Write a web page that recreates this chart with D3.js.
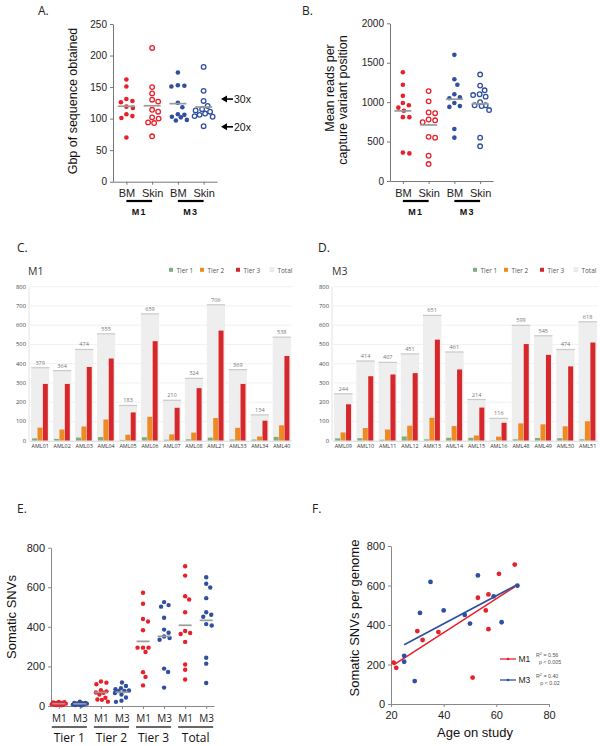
<!DOCTYPE html>
<html>
<head>
<meta charset="utf-8">
<script src="https://cdn.jsdelivr.net/npm/d3@7"></script>
<style>
  body { margin: 0; background: #fff; }
  svg { display: block; font-family: "Liberation Sans", Arial, sans-serif; }
</style>
</head>
<body>
<script>
// ---------- data ----------
const groupsAB = ["M1 BM", "M1 Skin", "M3 BM", "M3 Skin"];
const gbpM1BM = [162, 151, 131, 128, 126, 119, 117, 107, 104, 101, 70];
const gbpM1Skin = [212, 150, 140, 130, 127, 114, 111, 102, 100, 94, 93, 72];
const gbpM3BM = [173, 152, 151, 153, 125, 118, 107, 106, 102, 103, 98, 97];
const gbpM3Skin = [182, 144, 128, 120, 115, 113, 111, 108, 104, 103, 106, 88];
const coverageMarks = [{ label: "30x", value: 131 }, { label: "20x", value: 87 }];

const readsM1BM = [1380, 1220, 1080, 990, 960, 930, 890, 810, 810, 350, 360];
const readsM1Skin = [1140, 1010, 860, 870, 770, 780, 745, 550, 560, 320, 215];
const readsM3BM = [1600, 1290, 1220, 1100, 1060, 1050, 990, 940, 950, 660, 550];
const readsM3Skin = [1350, 1210, 1150, 1100, 1090, 1070, 1000, 960, 950, 960, 900, 550, 440];

const m1Samples = ["AML01", "AML02", "AML03", "AML04", "AML05", "AML06", "AML07", "AML08", "AML21", "AML33", "AML34", "AML40"];
const m1Tier1 = [12, 9, 16, 19, 4, 18, 5, 7, 16, 6, 6, 20];
const m1Tier2 = [68, 58, 74, 110, 31, 124, 33, 42, 118, 67, 22, 80];
const m1Tier3 = [295, 295, 383, 427, 147, 517, 171, 273, 572, 295, 104, 440];
const m1Total = [379, 364, 474, 555, 183, 659, 210, 324, 706, 369, 134, 538];
const m1Age = [57, 38, 56, 57, 22, 61, 21, 32, 67, 30, 51, 53];

const m3Samples = ["AML09", "AML10", "AML11", "AML12", "AMK13", "AML14", "AML15", "AML16", "AML48", "AML49", "AML50", "AML51"];
const m3Tier1 = [12, 13, 5, 22, 7, 15, 15, 2, 7, 14, 13, 7];
const m3Tier2 = [43, 66, 58, 78, 119, 76, 27, 21, 90, 85, 75, 101];
const m3Tier3 = [189, 335, 344, 351, 525, 370, 172, 93, 502, 446, 386, 510];
const m3Total = [244, 414, 407, 451, 651, 461, 214, 116, 599, 545, 474, 618];
const m3Age = [25, 62, 50, 48, 53, 31, 25, 29, 68, 59, 40, 35];

const tierNames = ["Tier 1", "Tier 2", "Tier 3", "Total"];
const fitStats = [{ name: "M1", r2: "0.56", p: "p < 0.005" }, { name: "M3", r2: "0.40", p: "p < 0.02" }];

// ---------- look ----------
const red = "#e8202b", blue = "#2f4f9f", meanGrey = "#9a9a9a";
const tierColors = ["#7fae7c", "#ee8a24", "#d8272b", "#eeeeee"];
const sansAlt = "'Open Sans', 'Noto Sans', sans-serif";

const svg = d3.select("body").append("svg").attr("width", 600).attr("height", 746);
svg.append("rect").attr("width", 600).attr("height", 746).attr("fill", "#fff");

// panel letters
[["A.", 38, 15], ["B.", 302, 15], ["C.", 17, 252], ["D.", 318, 252], ["E.", 17, 513], ["F.", 312, 513]]
  .forEach(([t, x, y]) => svg.append("text").attr("x", x).attr("y", y).attr("font-family", sansAlt)
    .attr("font-size", 12).attr("fill", "#222").text(t));

function styleAxis(sel, size, stroke, family) {
  sel.selectAll("path,line").attr("stroke", stroke);
  sel.selectAll("text").attr("font-size", size).attr("fill", "#222").attr("font-family", family || null);
}

// beeswarm-ish offsets, capped at maxOff (dots may overlap when crowded)
function swarm(ys, sep, maxOff) {
  const order = d3.range(ys.length).sort((a, b) => ys[a] - ys[b]);
  const placed = [], dx = [];
  for (const i of order) {
    let best = 0, bestD = -1;
    for (let k = 0; ; k++) {
      const c = k === 0 ? 0 : (k % 2 ? 1 : -1) * Math.ceil(k / 2) * 0.5;
      if (Math.abs(c) > maxOff) break;
      const dmin = placed.length ? d3.min(placed, p => Math.hypot(p[0] - c, p[1] - ys[i])) : Infinity;
      if (dmin >= sep) { best = c; break; }
      if (dmin > bestD) { bestD = dmin; best = c; }
    }
    placed.push([best, ys[i]]);
    dx[i] = best;
  }
  return dx;
}

function dotGroup(g, vals, cx, y, color, open, r, sep, half, maxOff) {
  const dx = swarm(vals.map(y), sep, maxOff);
  g.append("g").selectAll("circle").data(vals).join("circle")
    .attr("cx", (d, i) => cx + dx[i]).attr("cy", d => y(d)).attr("r", r)
    .attr("fill", open ? "#fff" : color)
    .attr("stroke", open ? color : "none").attr("stroke-width", 1.3);
  g.append("line")
    .attr("x1", cx - half).attr("x2", cx + half)
    .attr("y1", y(d3.mean(vals))).attr("y2", y(d3.mean(vals)))
    .attr("stroke", meanGrey).attr("stroke-width", 1.7);
}

function brackets(g, x, pairs, y, labelY, opts) {
  pairs.forEach(([a, b, label]) => {
    g.append("line").attr("x1", x(a) - opts.ext).attr("x2", x(b) + opts.ext)
      .attr("y1", y).attr("y2", y).attr("stroke", opts.stroke).attr("stroke-width", opts.width);
    g.append("text").attr("x", (x(a) + x(b)) / 2).attr("y", labelY).attr("text-anchor", "middle")
      .attr("font-size", opts.size).attr("font-weight", opts.weight).attr("font-family", opts.family || null)
      .attr("letter-spacing", opts.spacing || 0).attr("fill", "#111").text(label);
  });
}

// ---------- panel A ----------
{
  const g = svg.append("g");
  const y = d3.scaleLinear().domain([0, 250]).range([181.7, 24]);
  const x = d3.scalePoint().domain(groupsAB).range([113, 217]).padding(0.52);
  g.append("g").attr("transform", "translate(113,0)")
    .call(d3.axisLeft(y).tickValues(d3.range(0, 251, 50)).tickSize(3).tickSizeOuter(0))
    .call(styleAxis, 10, "#777");
  g.append("g").attr("transform", "translate(0,181.7)")
    .call(d3.axisBottom(x).tickSize(3).tickSizeOuter(0).tickPadding(5).tickFormat(d => d.split(" ")[1]))
    .call(styleAxis, 11, "#777");
  g.append("text").attr("transform", "translate(77,101) rotate(-90)").attr("text-anchor", "middle")
    .attr("font-size", 12.5).attr("fill", "#111").text("Gbp of sequence obtained");
  const sets = [gbpM1BM, gbpM1Skin, gbpM3BM, gbpM3Skin];
  sets.forEach((vals, i) => dotGroup(g, vals, x(groupsAB[i]), y, i < 2 ? red : blue, i % 2 === 1, 2.3, 6.2, 8.5, 9));
  brackets(g, x, [["M1 BM", "M1 Skin", "M1"], ["M3 BM", "M3 Skin", "M3"]], 201, 215,
    { ext: 0, stroke: "#000", width: 2.2, size: 9, weight: "bold", spacing: 1.2 });
  // coverage arrows
  coverageMarks.forEach(m => {
    const yy = y(m.value);
    g.append("path").attr("d", `M221,${yy} L227,${yy - 3.5} L227,${yy + 3.5} Z`).attr("fill", "#000");
    g.append("line").attr("x1", 226).attr("x2", 233).attr("y1", yy).attr("y2", yy)
      .attr("stroke", "#000").attr("stroke-width", 1.6);
    g.append("text").attr("x", 234).attr("y", yy + 3.8).attr("font-size", 10.5).attr("fill", "#111").text(m.label);
  });
}

// ---------- panel B ----------
{
  const g = svg.append("g");
  const y = d3.scaleLinear().domain([0, 2000]).range([181, 23.3]);
  const x = d3.scalePoint().domain(groupsAB).range([390, 493]).padding(0.5);
  g.append("g").attr("transform", "translate(390,0)")
    .call(d3.axisLeft(y).tickValues(d3.range(0, 2001, 500)).tickFormat(d3.format("d")).tickSize(3).tickSizeOuter(0))
    .call(styleAxis, 10, "#777");
  g.append("g").attr("transform", "translate(0,181)")
    .call(d3.axisBottom(x).tickSize(3).tickSizeOuter(0).tickPadding(5).tickFormat(d => d.split(" ")[1]))
    .call(styleAxis, 11, "#777");
  g.append("text").attr("transform", "translate(334,88) rotate(-90)").attr("text-anchor", "middle")
    .attr("font-size", 12.5).attr("fill", "#111").text("Mean reads per");
  g.append("text").attr("transform", "translate(347,100) rotate(-90)").attr("text-anchor", "middle")
    .attr("font-size", 12.5).attr("fill", "#111").text("capture variant position");
  const sets = [readsM1BM, readsM1Skin, readsM3BM, readsM3Skin];
  sets.forEach((vals, i) => dotGroup(g, vals, x(groupsAB[i]), y, i < 2 ? red : blue, i % 2 === 1, 2.3, 6.2, 8.5, 9));
  brackets(g, x, [["M1 BM", "M1 Skin", "M1"], ["M3 BM", "M3 Skin", "M3"]], 201, 215,
    { ext: 0, stroke: "#000", width: 2.2, size: 9, weight: "bold", spacing: 1.2 });
}

// ---------- panels C & D ----------
function barPanel(o) {
  const g = svg.append("g");
  const y = d3.scaleLinear().domain([0, 800]).range([440.7, 286.7]);
  const x = d3.scaleBand().domain(o.samples).range([o.left, o.right]).paddingInner(0.17).paddingOuter(0.05);
  const bw = x.bandwidth();
  const xi = d3.scaleBand().domain([0, 1, 2]).range([1, bw - 1.5]).paddingInner(0.08);
  // grid
  g.append("g").selectAll("line").data(d3.range(100, 801, 100)).join("line")
    .attr("x1", o.left).attr("x2", o.right).attr("y1", d => y(d)).attr("y2", d => y(d))
    .attr("stroke", "#f1f1f1");
  g.append("line").attr("x1", o.left - 1).attr("x2", o.left - 1).attr("y1", y(800)).attr("y2", y(0)).attr("stroke", "#e2e2e2");
  g.append("g").selectAll("text").data(d3.range(0, 801, 100)).join("text")
    .attr("x", o.left - 4).attr("y", d => y(d)).attr("dy", "0.33em").attr("text-anchor", "end")
    .attr("font-family", sansAlt).attr("font-size", 5.8).attr("fill", "#444").text(d => d);
  // totals
  const cols = o.samples.map((s, i) => ({ s, t: [o.t1[i], o.t2[i], o.t3[i]], total: o.total[i] }));
  const col = g.append("g").selectAll("g").data(cols).join("g").attr("transform", d => `translate(${x(d.s)},0)`);
  col.append("rect").attr("x", 0).attr("width", bw).attr("y", d => y(d.total)).attr("height", d => y(0) - y(d.total))
    .attr("fill", tierColors[3]);
  col.append("line").attr("x1", 0).attr("x2", bw).attr("y1", d => y(d.total)).attr("y2", d => y(d.total))
    .attr("stroke", "#c9c9c9").attr("stroke-width", 1.2);
  col.append("text").attr("x", bw / 2).attr("y", d => y(d.total) - 3).attr("text-anchor", "middle")
    .attr("font-family", sansAlt).attr("font-size", 5.6).attr("fill", "#777").text(d => d.total);
  col.selectAll("rect.tier").data(d => d.t).join("rect").attr("class", "tier")
    .attr("x", (d, i) => xi(i)).attr("width", xi.bandwidth())
    .attr("y", d => y(d)).attr("height", d => y(0) - y(d))
    .attr("fill", (d, i) => tierColors[i]);
  col.append("text").attr("x", bw / 2).attr("y", 447.5).attr("text-anchor", "middle")
    .attr("font-family", sansAlt).attr("font-size", 5.4).attr("fill", "#333").text(d => d.s);
  g.append("line").attr("x1", o.left).attr("x2", o.right).attr("y1", y(0) + 0.5).attr("y2", y(0) + 0.5).attr("stroke", "#d8d8d8");
  // title and legend
  g.append("text").attr("x", o.titleX).attr("y", 275).attr("font-family", sansAlt).attr("font-size", 10.5)
    .attr("fill", "#333").text(o.title);
  const offs = [0, 31, 67, 101];
  tierNames.forEach((t, i) => {
    g.append("rect").attr("x", o.legendX + offs[i]).attr("y", 267.8).attr("width", 4).attr("height", 4)
      .attr("fill", tierColors[i]).attr("stroke", i === 3 ? "#ddd" : "none").attr("stroke-width", 0.5);
    g.append("text").attr("x", o.legendX + offs[i] + 7.5).attr("y", 272.6).attr("font-family", sansAlt)
      .attr("font-size", 6.4).attr("fill", "#555").text(t);
  });
}
barPanel({ samples: m1Samples, t1: m1Tier1, t2: m1Tier2, t3: m1Tier3, total: m1Total,
  left: 30, right: 292, title: "M1", titleX: 28, legendX: 169 });
barPanel({ samples: m3Samples, t1: m3Tier1, t2: m3Tier2, t3: m3Tier3, total: m3Total,
  left: 333, right: 598, title: "M3", titleX: 332, legendX: 473 });

// ---------- panel E ----------
{
  const g = svg.append("g");
  const tiersM1 = [m1Tier1, m1Tier2, m1Tier3, m1Total];
  const tiersM3 = [m3Tier1, m3Tier2, m3Tier3, m3Total];
  const cats = tierNames.flatMap(t => [t + "|M1", t + "|M3"]);
  const y = d3.scaleLinear().domain([0, 800]).range([706, 547.7]);
  const x = d3.scalePoint().domain(cats).range([51, 214]).padding(0.37);
  g.append("g").attr("transform", "translate(51,0)")
    .call(d3.axisLeft(y).tickValues(d3.range(0, 801, 200)).tickSize(3).tickSizeOuter(0))
    .call(styleAxis, 11, "#888");
  g.append("g").attr("transform", "translate(0,706)")
    .call(d3.axisBottom(x).tickSize(3).tickSizeOuter(0).tickPadding(6).tickFormat(d => d.split("|")[1]))
    .call(styleAxis, 10, "#888", sansAlt);
  g.append("text").attr("transform", "translate(11,617) rotate(-90)").attr("dy", "0.35em").attr("text-anchor", "middle")
    .attr("font-size", 13).attr("fill", "#111").text("Somatic SNVs");
  tierNames.forEach((t, i) => {
    dotGroup(g, tiersM1[i], x(t + "|M1"), y, red, false, 2.2, 5.2, 6.5, 7);
    dotGroup(g, tiersM3[i], x(t + "|M3"), y, blue, false, 2.2, 5.2, 6.5, 7);
  });
  brackets(g, x, tierNames.map(t => [t + "|M1", t + "|M3", t]), 727, 742,
    { ext: 7, stroke: "#333", width: 1.3, size: 12, weight: "normal", family: sansAlt });
}

// ---------- panel F ----------
{
  const g = svg.append("g");
  const x = d3.scaleLinear().domain([20, 80]).range([391, 549]);
  const y = d3.scaleLinear().domain([0, 800]).range([704, 546]);
  g.append("g").attr("transform", "translate(391,0)")
    .call(d3.axisLeft(y).tickValues(d3.range(0, 801, 200)).tickSize(3).tickSizeOuter(0))
    .call(styleAxis, 11, "#888");
  g.append("g").attr("transform", "translate(0,704)")
    .call(d3.axisBottom(x).tickValues(d3.range(20, 81, 20)).tickSize(3).tickSizeOuter(0).tickPadding(4))
    .call(styleAxis, 11, "#888");
  g.append("text").attr("transform", "translate(354,618) rotate(-90)").attr("dy", "0.35em").attr("text-anchor", "middle")
    .attr("font-size", 13).attr("fill", "#111").text("Somatic SNVs per genome");
  g.append("text").attr("x", 475).attr("y", 737).attr("text-anchor", "middle")
    .attr("font-size", 13).attr("fill", "#111").text("Age on study");

  const sets = [{ age: m1Age, snv: m1Total, color: red }, { age: m3Age, snv: m3Total, color: blue }];
  sets.forEach(s => {
    const mx = d3.mean(s.age), my = d3.mean(s.snv);
    const slope = d3.sum(s.age, (a, i) => (a - mx) * (s.snv[i] - my)) / d3.sum(s.age, a => (a - mx) ** 2);
    const [a0, a1] = d3.extent(s.age);
    g.append("line").attr("x1", x(a0)).attr("x2", x(a1))
      .attr("y1", y(my + slope * (a0 - mx))).attr("y2", y(my + slope * (a1 - mx)))
      .attr("stroke", s.color).attr("stroke-width", 1.6);
  });
  sets.forEach(s => {
    g.append("g").selectAll("circle").data(s.age).join("circle")
      .attr("cx", d => x(d)).attr("cy", (d, i) => y(s.snv[i])).attr("r", 2.4).attr("fill", s.color);
  });
  // legend
  fitStats.forEach((f, i) => {
    const ly = 659 + i * 21, c = i ? blue : red;
    g.append("line").attr("x1", 500).attr("x2", 516).attr("y1", ly).attr("y2", ly).attr("stroke", c).attr("stroke-width", 1.3);
    g.append("circle").attr("cx", 508).attr("cy", ly).attr("r", 1.3).attr("fill", c);
    g.append("text").attr("x", 518.5).attr("y", ly + 3).attr("font-size", 8.5).attr("fill", "#222").text(f.name);
    const t = g.append("text").attr("x", 536).attr("y", ly - 2).attr("font-size", 5.3).attr("fill", "#555");
    t.append("tspan").text("R");
    t.append("tspan").attr("dy", -2).attr("font-size", 3.8).text("2");
    t.append("tspan").attr("dy", 2).text(" = " + f.r2);
    g.append("text").attr("x", 550).attr("y", ly + 4.5).attr("text-anchor", "middle").attr("font-size", 5.3)
      .attr("fill", "#555").text(f.p);
  });
}
</script>
</body>
</html>
